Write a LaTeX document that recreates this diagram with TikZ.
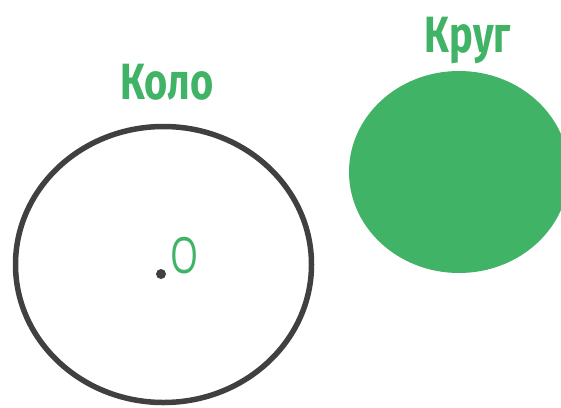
\documentclass[tikz,border=0pt]{standalone}
\usepackage{fontspec}
\newfontfamily\titlefont[FakeStretch=0.78]{Fira Sans}
\newfontfamily\labelfont[FakeStretch=0.72]{Open Sans}
\definecolor{grn}{RGB}{65,179,103}
\definecolor{drk}{RGB}{64,64,64}
\tikzset{
  title/.style={text=grn, font=\titlefont\bfseries\fontsize{51}{51}\selectfont, inner sep=0pt, anchor=base},
  ptlabel/.style={text=grn, font=\labelfont\fontsize{50}{50}\selectfont, inner sep=0pt, anchor=base west}
}
\begin{document}
\begin{tikzpicture}[x=1pt,y=-1pt]
\useasboundingbox (0,0) rectangle (561,407);
\clip (0,0) rectangle (561,407);
\draw[drk, line width=5.5pt] (163.5,264.5) ellipse [x radius=148, y radius=138];
\fill[grn] (459,172) ellipse [x radius=110, y radius=101];
\fill[drk] (161,274) circle [radius=5];
\node[title] (kolo) at (167,99) {Коло};
\node[title] (krug) at (468,52) {Круг};
\node[ptlabel] (o) at (170,273) {O};
\end{tikzpicture}
\end{document}
